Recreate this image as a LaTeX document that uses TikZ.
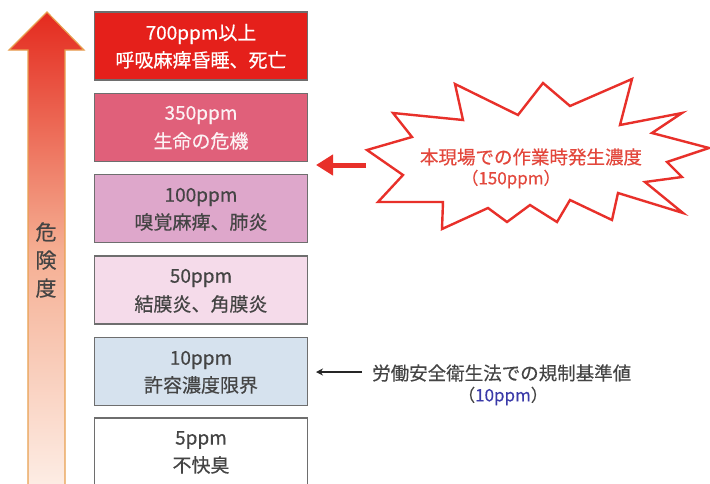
\documentclass[tikz,border=0pt]{standalone}
\usepackage{fontspec}
\setmainfont[FakeBold=0.4]{Noto Sans CJK JP}
\usetikzlibrary{arrows.meta}
\definecolor{c1}{HTML}{E5201B}
\definecolor{c2}{HTML}{E0607A}
\definecolor{c3}{HTML}{DEA7CB}
\definecolor{c4}{HTML}{F5DBEA}
\definecolor{c5}{HTML}{D6E2EE}
\definecolor{burstred}{HTML}{E8302A}
\definecolor{txtred}{HTML}{E3473C}
\definecolor{bordergray}{HTML}{6E6E6E}
\definecolor{darktxt}{HTML}{444444}
\definecolor{lawblue}{HTML}{3A3AA8}
\definecolor{arrowtop}{HTML}{E42A1E}
\definecolor{arrowmid}{HTML}{F5AE92}
\definecolor{arrowbot}{HTML}{FDEEE6}
\definecolor{arroworange}{HTML}{E8A050}
\tikzset{
  lvlbox/.style={draw=bordergray, line width=1.2pt, minimum width=213pt, minimum height=68pt, inner sep=0pt},
  lvltxt/.style={font=\fontsize{19}{21}\selectfont, inner sep=0pt, anchor=center},
}
\begin{document}
\begin{tikzpicture}[x=1pt,y=-1pt]
\useasboundingbox (0,0) rectangle (710,483);
\clip (0,0) rectangle (710,483);
% danger arrow
\path[top color=arrowtop, bottom color=arrowbot, middle color=arrowmid, draw=arroworange, line width=1.2pt]
  (47,12) -- (84,50) -- (65,50) -- (65,490) -- (28,490) -- (28,50) -- (9,50) -- cycle;
\node[font=\fontsize{21}{26}\selectfont, text=darktxt, align=center, inner sep=0pt] (danger) at (46,260) {危\\[2pt]険\\[2pt]度};
% level boxes
\node[lvlbox, fill=c1] (b1) at (201,46) {};
\node[lvlbox, fill=c2] (b2) at (201,127.5) {};
\node[lvlbox, fill=c3] (b3) at (201,208.5) {};
\node[lvlbox, fill=c4] (b4) at (201,290) {};
\node[lvlbox, fill=c5] (b5) at (201,371.5) {};
\node[lvlbox, fill=white] (b6) at (201,452) {};
\node[lvltxt, text=white] (t1a) at (201,34) {700ppm以上};
\node[lvltxt, text=white] (t1b) at (201,60) {呼吸麻痺昏睡、死亡};
\node[lvltxt, text=white!92!c2] (t2a) at (201,115) {350ppm};
\node[lvltxt, text=white!92!c2] (t2b) at (201,141) {生命の危機};
\node[lvltxt, text=darktxt] (t3a) at (201,197) {100ppm};
\node[lvltxt, text=darktxt] (t3b) at (201,222) {嗅覚麻痺、肺炎};
\node[lvltxt, text=darktxt] (t4a) at (201,278) {50ppm};
\node[lvltxt, text=darktxt] (t4b) at (201,304) {結膜炎、角膜炎};
\node[lvltxt, text=darktxt] (t5a) at (201,360) {10ppm};
\node[lvltxt, text=darktxt] (t5b) at (201,385) {許容濃度限界};
\node[lvltxt, text=darktxt] (t6a) at (201,440) {5ppm};
\node[lvltxt, text=darktxt] (t6b) at (201,465) {不快臭};
% burst
\draw[burstred, fill=white, line width=2.4pt, line join=miter]
  (367,150) -- (412,137) -- (393,113) -- (463,120) -- (455,84) -- (518,115) -- (543,83) -- (570,106) -- (632,79) -- (620,125) -- (682,113) -- (652,133) -- (709,148) -- (667,162) -- (682,177) -- (645,182) -- (683,213) -- (618,193) -- (612,220) -- (570,200) -- (557,222) -- (530,205) -- (507,222) -- (488,208) -- (442,229) -- (443,202) -- (378,202) -- (403,175) -- cycle;
\node[font=\fontsize{18.5}{20}\selectfont, text=txtred, inner sep=0pt] (bt1) at (531,157) {本現場での作業時発生濃度};
\node[font=\fontsize{17}{18}\selectfont, text=txtred, inner sep=0pt] (bt2) at (511,179) {（150ppm）};
\coordinate (rtail) at (366,165);
\coordinate (rtip) at (316,165);
\draw[burstred, line width=5pt, -{Triangle[length=17pt,width=20pt]}] (rtail) -- (rtip);
% law note
\node[font=\fontsize{18.5}{20}\selectfont, text=darktxt, inner sep=0pt, anchor=west] (law) at (372,373) {労働安全衛生法での規制基準値};
\node[font=\fontsize{17}{18}\selectfont, text=darktxt, inner sep=0pt] (lawv) at (503,396) {（\textcolor{lawblue}{10ppm}）};
\coordinate (ktip) at (316,372);
\draw[black!85, line width=1.8pt, -{Stealth[length=7pt,width=7pt]}] ([xshift=-10pt]law.west |- 0,372) -- (ktip);
\end{tikzpicture}
\end{document}
